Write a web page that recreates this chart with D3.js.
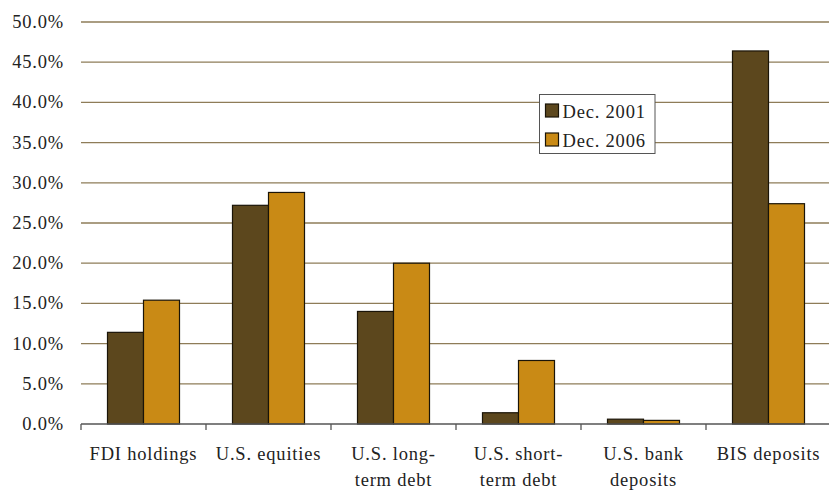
<!DOCTYPE html>
<html><head><meta charset="utf-8">
<script src="https://cdn.jsdelivr.net/npm/d3@7"></script>
<style>body{margin:0;background:#fff}svg{display:block}</style>
</head><body>
<svg id="c" width="829" height="490"></svg>
<script>
const categories = [["FDI holdings"],["U.S. equities"],["U.S. long-","term debt"],["U.S. short-","term debt"],["U.S. bank","deposits"],["BIS deposits"]];
const seriesNames = ["Dec. 2001","Dec. 2006"];
const values2001 = [11.4, 27.2, 14.0, 1.4, 0.6, 46.4];
const values2006 = [15.4, 28.8, 20.0, 7.9, 0.45, 27.4];
const yTicks = [0,5,10,15,20,25,30,35,40,45,50];
const colors = ["#5c471d","#c98a15"];

const svg = d3.select("#c");
const font = "Liberation Serif";
const fs = 18.5, ls = 0.8;
const x0 = d3.scaleBand().domain(d3.range(categories.length)).range([81, 831]).paddingInner(0).paddingOuter(0);
const x1 = d3.scaleBand().domain([0,1]).range([0, x0.bandwidth()]).paddingOuter(0.736).paddingInner(0);
const y = d3.scaleLinear().domain([0,50]).range([424, 22]);

// gridlines
svg.append("g").selectAll("line").data(yTicks.filter(d=>d>0)).join("line")
  .attr("x1", 81).attr("x2", 831).attr("y1", d=>y(d)).attr("y2", d=>y(d))
  .attr("stroke", "#8e7c58").attr("stroke-width", 1.3);

// y labels
svg.append("g").selectAll("text").data(yTicks).join("text")
  .attr("x", 64).attr("y", d=>y(d)+6).attr("text-anchor","end")
  .attr("font-family", font).attr("font-size", fs).attr("letter-spacing", ls).attr("fill","#222")
  .text(d=>d.toFixed(1)+"%");

// bars
const data = categories.map((c,i)=>[values2001[i], values2006[i]]);
const g = svg.append("g");
data.forEach((vals,i)=>{
  vals.forEach((v,j)=>{
    g.append("rect")
      .attr("x", x0(i)+x1(j)).attr("width", x1.bandwidth())
      .attr("y", y(v)).attr("height", y(0)-y(v))
      .attr("fill", colors[j]).attr("stroke","#1a1408").attr("stroke-width",1.2);
  });
});

// x axis
svg.append("line").attr("x1",81).attr("x2",831).attr("y1",y(0)).attr("y2",y(0)).attr("stroke","#555").attr("stroke-width",1.3);
svg.append("g").selectAll("line").data(d3.range(categories.length)).join("line")
  .attr("x1", d=>x0(d)).attr("x2", d=>x0(d)).attr("y1", y(0)).attr("y2", y(0)+6)
  .attr("stroke","#555").attr("stroke-width",1.3);

// x labels
const xl = svg.append("g");
categories.forEach((lines,i)=>{
  lines.forEach((t,k)=>{
    xl.append("text").attr("x", x0(i)+x0.bandwidth()/2).attr("y", 460 + k*26)
      .attr("text-anchor","middle").attr("font-family",font).attr("font-size",fs).attr("letter-spacing", ls).attr("fill","#222").text(t);
  });
});

// legend
const lg = svg.append("g");
lg.append("rect").attr("x",539.5).attr("y",94.5).attr("width",115.5).attr("height",59).attr("fill","#fff").attr("stroke","#555").attr("stroke-width",1);
seriesNames.forEach((n,j)=>{
  lg.append("rect").attr("x",545.5).attr("y",104+j*29).attr("width",13).attr("height",13).attr("fill",colors[j]).attr("stroke","#1a1408").attr("stroke-width",1.2);
  lg.append("text").attr("x",562.5).attr("y",117.5+j*29).attr("font-family",font).attr("font-size",fs).attr("letter-spacing", ls).attr("fill","#222").text(n);
});
</script>
</body></html>
